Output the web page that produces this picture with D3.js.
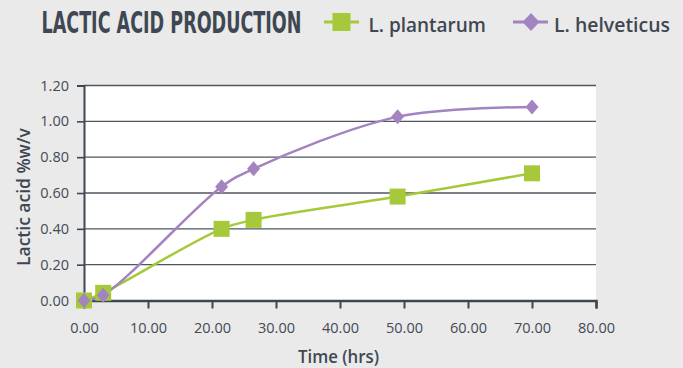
<!DOCTYPE html>
<html>
<head>
<meta charset="utf-8">
<script src="https://cdn.jsdelivr.net/npm/d3@7"></script>
<style>
  html, body { margin: 0; padding: 0; background: #e9eae9; }
  svg { display: block; }
</style>
</head>
<body>
<svg id="chart" width="683" height="368"></svg>
<script>
// Sampling times (hrs)
const timeHrs = [0, 3, 21.5, 26.5, 49, 70];
// Lactic acid (%w/v) per strain
const plantarum = [0, 0.043, 0.40, 0.45, 0.58, 0.71];
const helveticus = [0, 0.03, 0.635, 0.735, 1.025, 1.08];
const seriesNames = ["L. plantarum", "L. helveticus"];
const xTicks = [0, 10, 20, 30, 40, 50, 60, 70, 80];
const yTicks = [0, 0.2, 0.4, 0.6, 0.8, 1.0, 1.2];

const W = 683, H = 368;
const m = { left: 84, right: 87, top: 85.5, bottom: 67.5 };
const svg = d3.select("#chart");
const ink = "#3f4752";
const green = "#a5c93a", purple = "#a383c0";
const uiFont = "'Open Sans', 'Noto Sans', sans-serif";

const x = d3.scaleLinear().domain([0, 80]).range([m.left, W - m.right]);
const y = d3.scaleLinear().domain([0, 1.2]).range([H - m.bottom, m.top]);

// Squeeze a text horizontally so it spans the given width.
function fitText(sel, width, tx, ty, rot) {
  const len = sel.node().getComputedTextLength();
  const k = Math.min(1.15, width / len);
  sel.attr("x", 0).attr("y", 0)
    .attr("transform", `translate(${tx},${ty})${rot ? ` rotate(${rot})` : ""} scale(${k},1)`);
  return sel;
}

// plot background
svg.append("rect")
  .attr("x", x(0)).attr("y", y(1.2))
  .attr("width", x(80) - x(0)).attr("height", y(0) - y(1.2))
  .attr("fill", "#ffffff");

// horizontal gridlines
svg.append("g").selectAll("line").data(yTicks.filter(d => d > 0)).join("line")
  .attr("x1", x(0)).attr("x2", x(80))
  .attr("y1", d => y(d)).attr("y2", d => y(d))
  .attr("stroke", "#4f5660").attr("stroke-width", 1.4);

// y axis
const yAxis = svg.append("g")
  .attr("transform", `translate(${x(0)},0)`)
  .call(d3.axisLeft(y).tickValues(yTicks).tickFormat(d3.format(".2f")).tickSize(7).tickPadding(8));
yAxis.select(".domain").attr("stroke", ink).attr("stroke-width", 2);
yAxis.selectAll(".tick line").attr("stroke", ink).attr("stroke-width", 1.6);
yAxis.selectAll(".tick text").attr("fill", "#444b55").attr("font-size", 14.5)
  .attr("font-family", uiFont);

// x axis
const xAxis = svg.append("g")
  .attr("transform", `translate(0,${y(0)})`)
  .call(d3.axisBottom(x).tickValues(xTicks).tickFormat(d3.format(".2f")).tickSize(8).tickPadding(14));
xAxis.select(".domain").attr("stroke", ink).attr("stroke-width", 2.4);
xAxis.selectAll(".tick line").attr("stroke", ink).attr("stroke-width", 2);
xAxis.selectAll(".tick text").attr("fill", "#444b55").attr("font-size", 14.5)
  .attr("font-family", uiFont);

// axis titles
const xTitle = svg.append("text")
  .attr("text-anchor", "middle")
  .attr("font-family", uiFont).attr("font-weight", 600).attr("font-size", 18)
  .attr("fill", ink).text("Time (hrs)");
fitText(xTitle, 81, 338.5, 363);

const yTitle = svg.append("text")
  .attr("text-anchor", "middle")
  .attr("font-family", uiFont).attr("font-weight", 600).attr("font-size", 18)
  .attr("fill", ink).text("Lactic acid %w/v");
fitText(yTitle, 138, 29.5, 197, -90);

// series lines (smoothed)
const line = d3.line()
  .x(d => x(d[0])).y(d => y(d[1]))
  .curve(d3.curveCatmullRom.alpha(0.5));

const greenPts = timeHrs.map((t, i) => [t, plantarum[i]]);
const purplePts = timeHrs.map((t, i) => [t, helveticus[i]]);

svg.append("path").datum(greenPts).attr("d", line)
  .attr("fill", "none").attr("stroke", green).attr("stroke-width", 2.5);
svg.append("path").datum(purplePts).attr("d", line)
  .attr("fill", "none").attr("stroke", purple).attr("stroke-width", 2.5);

// markers
const sq = 16;
svg.append("g").selectAll("rect").data(greenPts).join("rect")
  .attr("x", d => x(d[0]) - sq / 2).attr("y", d => y(d[1]) - sq / 2)
  .attr("width", sq).attr("height", sq).attr("fill", green);

const diamond = (cx, cy, w, h) =>
  `M${cx},${cy - h / 2}L${cx + w / 2},${cy}L${cx},${cy + h / 2}L${cx - w / 2},${cy}Z`;
svg.append("g").selectAll("path").data(purplePts).join("path")
  .attr("d", d => diamond(x(d[0]), y(d[1]), 13, 15))
  .attr("fill", purple);

// title
const title = svg.append("text")
  .attr("font-family", "'Liberation Sans Narrow', 'DejaVu Sans Condensed', sans-serif")
  .attr("font-weight", 700).attr("font-size", 31)
  .attr("fill", ink).text("LACTIC ACID PRODUCTION");
fitText(title, 260, 41.5, 33.3);

// legend
const legY = 22;
const leg = [
  { name: seriesNames[0], color: green, x0: 324, tx: 368.5, tw: 117.5, shape: "square" },
  { name: seriesNames[1], color: purple, x0: 513, tx: 554, tw: 116, shape: "diamond" }
];
leg.forEach(l => {
  svg.append("line").attr("x1", l.x0).attr("x2", l.x0 + 35)
    .attr("y1", legY).attr("y2", legY)
    .attr("stroke", l.color).attr("stroke-width", 3);
  if (l.shape === "square") {
    svg.append("rect").attr("x", l.x0 + 8.5).attr("y", legY - 9)
      .attr("width", 18).attr("height", 18).attr("fill", l.color);
  } else {
    svg.append("path").attr("d", diamond(l.x0 + 18, legY, 17, 18)).attr("fill", l.color);
  }
  const t = svg.append("text")
    .attr("font-family", uiFont).attr("font-weight", 600).attr("font-size", 20)
    .attr("fill", ink).text(l.name);
  fitText(t, l.tw, l.tx, legY + 9.7);
});
</script>
</body>
</html>
